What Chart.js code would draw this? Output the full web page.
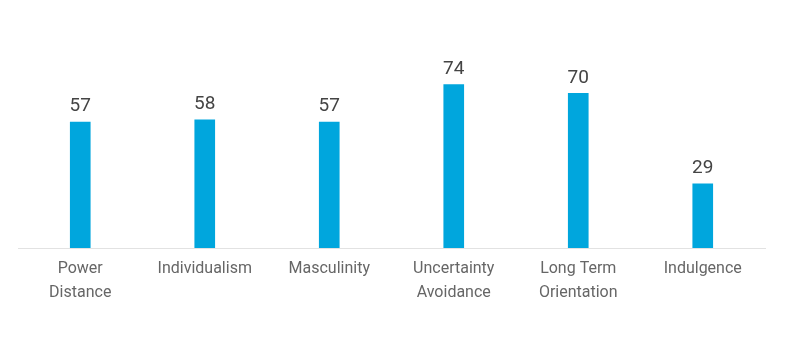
<!DOCTYPE html>
<html>
<head>
<meta charset="utf-8">
<script src="https://cdn.jsdelivr.net/npm/chart.js@4"></script>
<style>
    html, body { margin: 0; padding: 0; background: #fff; }
    #wrap { width: 799px; height: 362px; position: relative; }
</style>
</head>
<body>
<div id="wrap"><canvas id="dimChart"></canvas></div>
<script>
// Dimension scores
const categories = [
    ['Power', 'Distance'],
    'Individualism',
    'Masculinity',
    ['Uncertainty', 'Avoidance'],
    ['Long Term', 'Orientation'],
    'Indulgence'
];
const scores = [57, 58, 57, 74, 70, 29];

// Draw the score above each bar
const valueLabels = {
    id: 'valueLabels',
    afterDatasetsDraw(chart) {
        const ctx = chart.ctx;
        const meta = chart.getDatasetMeta(0);
        ctx.save();
        ctx.font = '19px Roboto, sans-serif';
        ctx.fillStyle = '#444';
        ctx.textAlign = 'center';
        ctx.textBaseline = 'bottom';
        meta.data.forEach((bar, i) => {
            ctx.fillText(scores[i], bar.x, bar.y - 6);
        });
        ctx.restore();
    }
};

const ctx = document.getElementById('dimChart').getContext('2d');
new Chart(ctx, {
    type: 'bar',
    data: {
        labels: categories,
        datasets: [{
            data: scores,
            backgroundColor: '#00a6dd',
            barThickness: 20
        }]
    },
    options: {
        responsive: true,
        maintainAspectRatio: false,
        animation: false,
        layout: {
            padding: { left: 18, right: 34, top: 27, bottom: 0 }
        },
        scales: {
            y: {
                display: false,
                min: 0,
                max: 100
            },
            x: {
                grid: { display: false, drawTicks: false },
                border: { color: '#e2e2e2', width: 1 },
                ticks: {
                    color: '#666',
                    padding: 9,
                    font: { family: 'Roboto, sans-serif', size: 16, lineHeight: 1.5 }
                },
                afterFit(scale) {
                    scale.height = 114;
                }
            }
        },
        plugins: {
            legend: { display: false },
            tooltip: { enabled: false }
        }
    },
    plugins: [valueLabels]
});
</script>
</body>
</html>
